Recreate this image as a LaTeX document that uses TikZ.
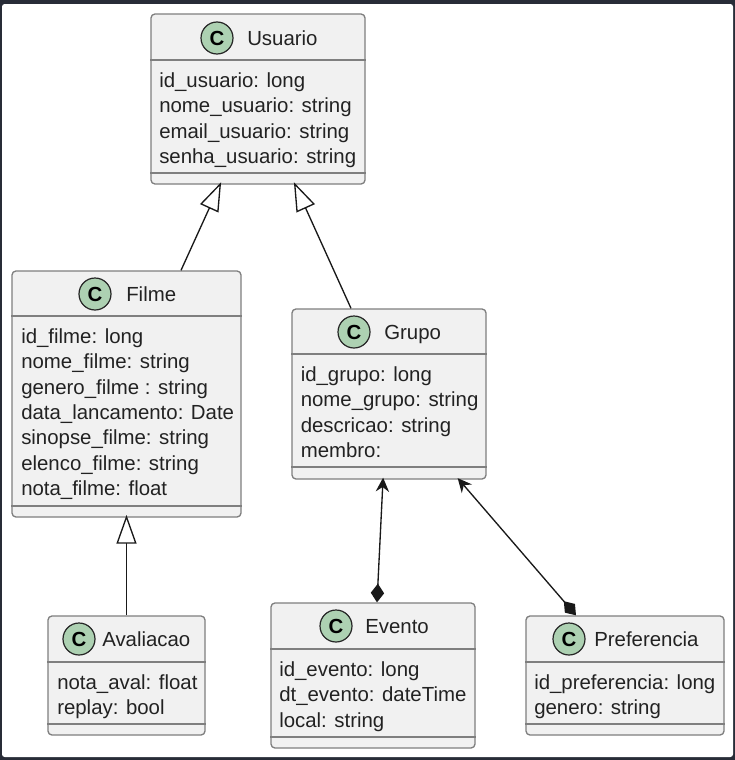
\documentclass[tikz,border=0pt]{standalone}
\usepackage{fontspec}
\setmainfont{Liberation Sans}
\usetikzlibrary{arrows.meta}

\def\px{0.75pt}
\definecolor{framedark}{HTML}{282C37}
\definecolor{boxfill}{HTML}{F1F1F1}
\definecolor{boxline}{HTML}{7F7F7F}
\definecolor{spotfill}{HTML}{ADD1B2}
\definecolor{inktext}{HTML}{222222}

\tikzset{
    classbox/.style={draw=boxline, fill=boxfill, line width=1pt, rounded corners=3pt, inner sep=0pt},
    sepline/.style={draw=boxline, line width=0.8pt},
    spot/.style={circle, draw=black!85, fill=spotfill, line width=0.9pt, minimum size=32*\px, inner sep=0pt, text=black, font=\fontsize{15.3}{15.3}\selectfont\bfseries},
    titletext/.style={anchor=base west, inner sep=0pt, text=inktext, font=\fontsize{15.3}{15.3}\selectfont},
    attrtext/.style={anchor=north west, inner sep=0pt, align=left, text=inktext, font=\fontsize{15.3}{19}\selectfont},
    link/.style={draw=black!90, line width=1pt},
    inherits/.style={link, shorten >=-2pt, -{Triangle[open, fill=white, length=21.5pt, width=15pt]}},
    partof/.style={link, shorten <=-1.5pt, {Stealth[length=10.5pt, width=10pt, inset=3.5pt]}-{Diamond[length=14pt, width=10pt]}},
}

\begin{document}
\begin{tikzpicture}[x=\px, y=-\px]
    % 1. Window frame
    \fill[framedark] (0,0) rectangle (735,760);
    \fill[white, rounded corners=2pt] (2,4) rectangle (733,757);

    % 2. Class boxes
    \node[classbox, minimum width=214*\px, minimum height=170*\px] (usuario) at (258,99) {};
    \node[classbox, minimum width=229*\px, minimum height=246*\px] (filme) at (126.5,394) {};
    \node[classbox, minimum width=194*\px, minimum height=170*\px] (grupo) at (389,394) {};
    \node[classbox, minimum width=157*\px, minimum height=119*\px] (avaliacao) at (126.5,675.5) {};
    \node[classbox, minimum width=204*\px, minimum height=145*\px] (evento) at (373,675.5) {};
    \node[classbox, minimum width=198*\px, minimum height=119*\px] (preferencia) at (625,675.5) {};

    % 3. Separators
    \draw[sepline] (usuario.west |- 0,60) -- (usuario.east |- 0,60);
    \draw[sepline] (usuario.west |- 0,173) -- (usuario.east |- 0,173);
    \draw[sepline] (filme.west |- 0,316) -- (filme.east |- 0,316);
    \draw[sepline] (filme.west |- 0,506) -- (filme.east |- 0,506);
    \draw[sepline] (grupo.west |- 0,354) -- (grupo.east |- 0,354);
    \draw[sepline] (grupo.west |- 0,467) -- (grupo.east |- 0,467);
    \draw[sepline] (avaliacao.west |- 0,662) -- (avaliacao.east |- 0,662);
    \draw[sepline] (avaliacao.west |- 0,724) -- (avaliacao.east |- 0,724);
    \draw[sepline] (evento.west |- 0,649) -- (evento.east |- 0,649);
    \draw[sepline] (evento.west |- 0,737) -- (evento.east |- 0,737);
    \draw[sepline] (preferencia.west |- 0,662) -- (preferencia.east |- 0,662);
    \draw[sepline] (preferencia.west |- 0,724) -- (preferencia.east |- 0,724);

    % 4. Headers
    \node[spot] (usuariospot) at (217,38) {C};
    \node[titletext] (usuariotitle) at (247,45) {Usuario};
    \node[spot] (filmespot) at (95,294) {C};
    \node[titletext] (filmetitle) at (126,301.5) {Filme};
    \node[spot] (grupospot) at (354,332) {C};
    \node[titletext] (grupotitle) at (384,339) {Grupo};
    \node[spot] (avaliacaospot) at (79,639) {C};
    \node[titletext] (avaliacaotitle) at (102,646.5) {Avaliacao};
    \node[spot] (eventospot) at (336,626) {C};
    \node[titletext] (eventotitle) at (365,633.5) {Evento};
    \node[spot] (preferenciaspot) at (569,639) {C};
    \node[titletext] (preferenciatitle) at (594,646.5) {Preferencia};

    % 5. Attributes
    \node[attrtext] (usuarioattrs) at (159,72.5) {id\_usuario: long\\nome\_usuario: string\\email\_usuario: string\\senha\_usuario: string};
    \node[attrtext] (filmeattrs) at (21,328.5) {id\_filme: long\\nome\_filme: string\\genero\_filme : string\\data\_lancamento: Date\\sinopse\_filme: string\\elenco\_filme: string\\nota\_filme: float};
    \node[attrtext] (grupoattrs) at (300.5,366.5) {id\_grupo: long\\nome\_grupo: string\\descricao: string\\membro:};
    \node[attrtext] (avaliacaoattrs) at (57,674.5) {nota\_aval: float\\replay: bool};
    \node[attrtext] (eventoattrs) at (279,661.5) {id\_evento: long\\dt\_evento: dateTime\\local: string};
    \node[attrtext] (preferenciaattrs) at (534,674.5) {id\_preferencia: long\\genero: string};

    % 6. Connectors
    \draw[inherits] ([shift={(54.5,0)}]filme.north) -- ([shift={(-38,0)}]usuario.south);
    \draw[inherits] ([shift={(-38,0)}]grupo.north) -- ([shift={(37,0)}]usuario.south);
    \draw[inherits] (avaliacao.north) -- (filme.south);
    \draw[partof] ([shift={(-6,0)}]grupo.south) -- ([shift={(4,0)}]evento.north);
    \draw[partof] ([shift={(70,0)}]grupo.south) -- ([shift={(-49,0)}]preferencia.north);
\end{tikzpicture}
\end{document}
